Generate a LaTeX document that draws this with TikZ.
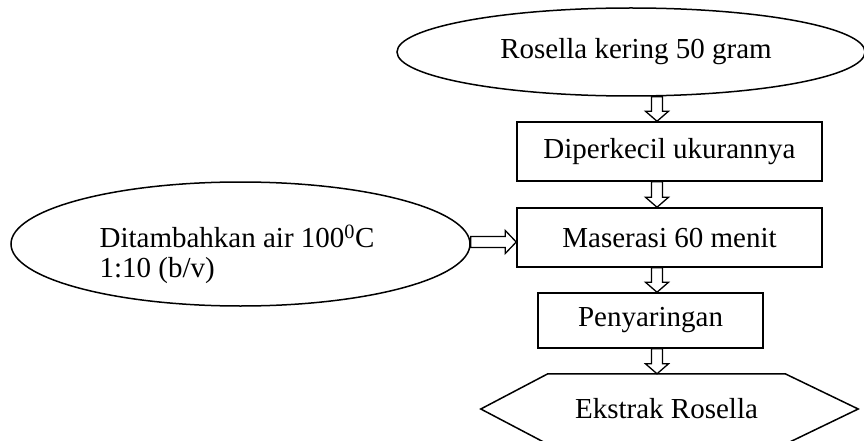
\documentclass[tikz,border=0pt]{standalone}
\usepackage{fontspec}
\setmainfont{Liberation Serif}
\usetikzlibrary{shapes.geometric,calc}
\tikzset{
  shapeline/.style={draw=black, line width=1.5pt},
  procbox/.style={shapeline, rectangle, inner sep=0pt, minimum width=305pt, minimum height=59pt},
  ovalbox/.style={shapeline, ellipse, inner sep=0pt},
  arrowline/.style={draw=black, line width=1.3pt, fill=white, line join=miter},
  varrow/.style={to path={
    let \p1=(\tikztostart), \p2=(\tikztotarget) in
    (\x1-5.5pt,\y1) -- (\x1-5.5pt,\y2+10pt) -- (\x1-11.5pt,\y2+10pt) -- (\x1,\y2)
    -- (\x1+11.5pt,\y2+10pt) -- (\x1+5.5pt,\y2+10pt) -- (\x1+5.5pt,\y1) -- cycle}},
  harrow/.style={to path={
    let \p1=(\tikztostart), \p2=(\tikztotarget) in
    (\x1,\y1+5.5pt) -- (\x2-11pt,\y1+5.5pt) -- (\x2-11pt,\y1+11.5pt) -- (\x2,\y1)
    -- (\x2-11pt,\y1-11.5pt) -- (\x2-11pt,\y1-5.5pt) -- (\x1,\y1-5.5pt) -- cycle}}
}
\begin{document}
\begin{tikzpicture}[x=1pt,y=-1pt,font=\fontsize{29}{30}\selectfont]
\useasboundingbox (0,0) rectangle (864,441);
\fill[white] (0,0) rectangle (864,441);
\begin{scope}
\clip (0,0) rectangle (864,441);
\coordinate (ax) at (657,0);
\node[ovalbox, minimum width=468pt, minimum height=88pt] (top) at (631,52) {};
\node (toptext) at (636,52) {Rosella kering 50 gram};
\node[procbox] (dip) at (669.5,151.5) {Diperkecil ukurannya};
\node[procbox] (mas) at (669.5,237.5) {Maserasi 60 menit};
\node[procbox, minimum width=225pt, minimum height=55pt] (pen) at (650.5,320.5) {Penyaringan};
\node[ovalbox, minimum width=459pt, minimum height=124pt] (lell) at (240.5,244) {};
\node[align=left, inner sep=0pt] (lelltext) at (237,254) {Ditambahkan air 100\textsuperscript{0}C\\1:10 (b/v)};
\node[rectangle, inner sep=0pt, minimum width=237pt, minimum height=70pt] (eks) at (666.5,409) {Ekstrak Rosella};
\draw[shapeline] (eks.north west) -- (eks.north east) -- ($(eks.east)+(73,0)$) -- (eks.south east)
  -- (eks.south west) -- ($(eks.west)+(-67,0)$) -- cycle;
\path[arrowline] (top.south -| ax) to[varrow] (dip.north -| ax);
\path[arrowline] (dip.south -| ax) to[varrow] (mas.north -| ax);
\path[arrowline] (mas.south -| ax) to[varrow] (pen.north -| ax);
\path[arrowline] (pen.south -| ax) to[varrow] (eks.north -| ax);
\path[arrowline] ($(lell.east)+(0,-2)$) to[harrow] (mas.west |- {$(lell.east)+(0,-2)$});
\end{scope}
\end{tikzpicture}
\end{document}
